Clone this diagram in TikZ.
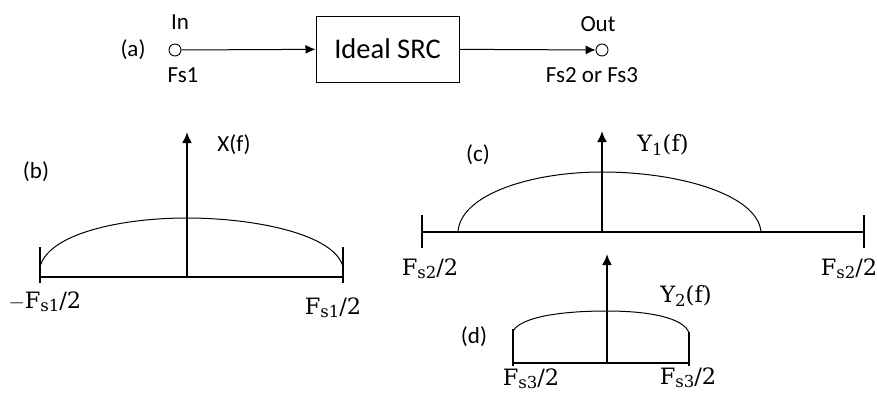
\documentclass[tikz,border=0pt]{standalone}
\usepackage{fontspec}
\setmainfont{Carlito}
\newfontfamily\serifl{DejaVu Serif}
\usetikzlibrary{arrows.meta}
\newcommand{\flab}[2]{{\serifl #1\raisebox{-0.3ex}{\fontsize{16.5}{16}\selectfont #2}/2}}
\begin{document}
\begin{tikzpicture}[x=1pt,y=-1pt,
  lbl/.style={inner sep=0pt,font=\fontsize{23}{24}\selectfont},
  slbl/.style={inner sep=0pt,font=\fontsize{22.5}{24}\selectfont\serifl},
  port/.style={circle,draw,line width=0.9pt,minimum size=12pt,inner sep=0pt},
  sig/.style={line width=1pt,-{Latex[length=10pt,width=9pt]}},
  axis/.style={line width=2pt,-{Latex[length=11pt,width=10pt]}},
  base/.style={line width=1.4pt},
  spec/.style={line width=1pt}]
\useasboundingbox (0,0) rectangle (877,394);
% (a)
\node[lbl] (la) at (133,50) {(a)};
\node[port] (in) at (175,50) {};
\node[lbl] (tin) at (180,22) {In};
\node[lbl] (tfs1) at (183,75) {Fs1};
\node[draw,line width=1pt,minimum width=143pt,minimum height=66pt,inner sep=0pt,
  font=\fontsize{28.5}{30}\selectfont] (src) at (387.5,49) {Ideal SRC};
\node[port] (out) at (602,50) {};
\node[lbl] (tout) at (598,24) {Out};
\node[lbl] (tfs23) at (592,75) {Fs2 or Fs3};
\draw[sig] (in) -- (src);
\draw[sig] (src) -- (out);
% (b)
\node[lbl] (lb) at (36,172) {(b)};
\draw[base] (40,277) -- (343,277);
\draw[line width=1.2pt] (40,247) -- (40,283);
\draw[line width=1.2pt] (343,247) -- (343,283);
\draw[spec] (40,267) .. controls (48,234) and (120,218) .. (187,218)
  .. controls (254,218) and (335,234) .. (343,267);
\draw[axis] (187,277) -- (187,132);
\node[lbl] (xf) at (234,145) {X(f)};
\node[slbl] (bl) at (45,302) {$-$\flab{F}{s1}};
\node[slbl] (br) at (333,308) {\flab{F}{s1}};
% (c)
\node[lbl] (lc) at (478,155) {(c)};
\draw[base] (422,232) -- (864,232);
\draw[line width=1.2pt] (422,215) -- (422,248);
\draw[line width=1.2pt] (864,215) -- (864,248);
\draw[spec] (458,232) .. controls (460,195) and (530,172) .. (602,172)
  .. controls (680,172) and (758,195) .. (761,232);
\draw[axis] (602,232) -- (602,131);
\node[slbl] (yf1) at (663,145) {Y\raisebox{-0.3ex}{\fontsize{16.5}{16}\selectfont 1}(f)};
\node[slbl] (cl) at (430,269) {\flab{F}{s2}};
\node[slbl] (cr) at (849,269) {\flab{F}{s2}};
% (d)
\node[lbl] (ld) at (474,337) {(d)};
\draw[base] (513,363) -- (689,363);
\draw[line width=1.4pt] (513,329) -- (513,366);
\draw[line width=1.4pt] (689,332) -- (689,366);
\draw[spec] (513,331) .. controls (522,316) and (565,311) .. (607,311)
  .. controls (650,311) and (684,318) .. (689,333);
\draw[axis] (607,363) -- (607,254);
\node[slbl] (yf2) at (686,296) {Y\raisebox{-0.3ex}{\fontsize{16.5}{16}\selectfont 2}(f)};
\node[slbl] (dl) at (531,379) {\flab{F}{s3}};
\node[slbl] (dr) at (688,378) {\flab{F}{s3}};
\end{tikzpicture}
\end{document}
